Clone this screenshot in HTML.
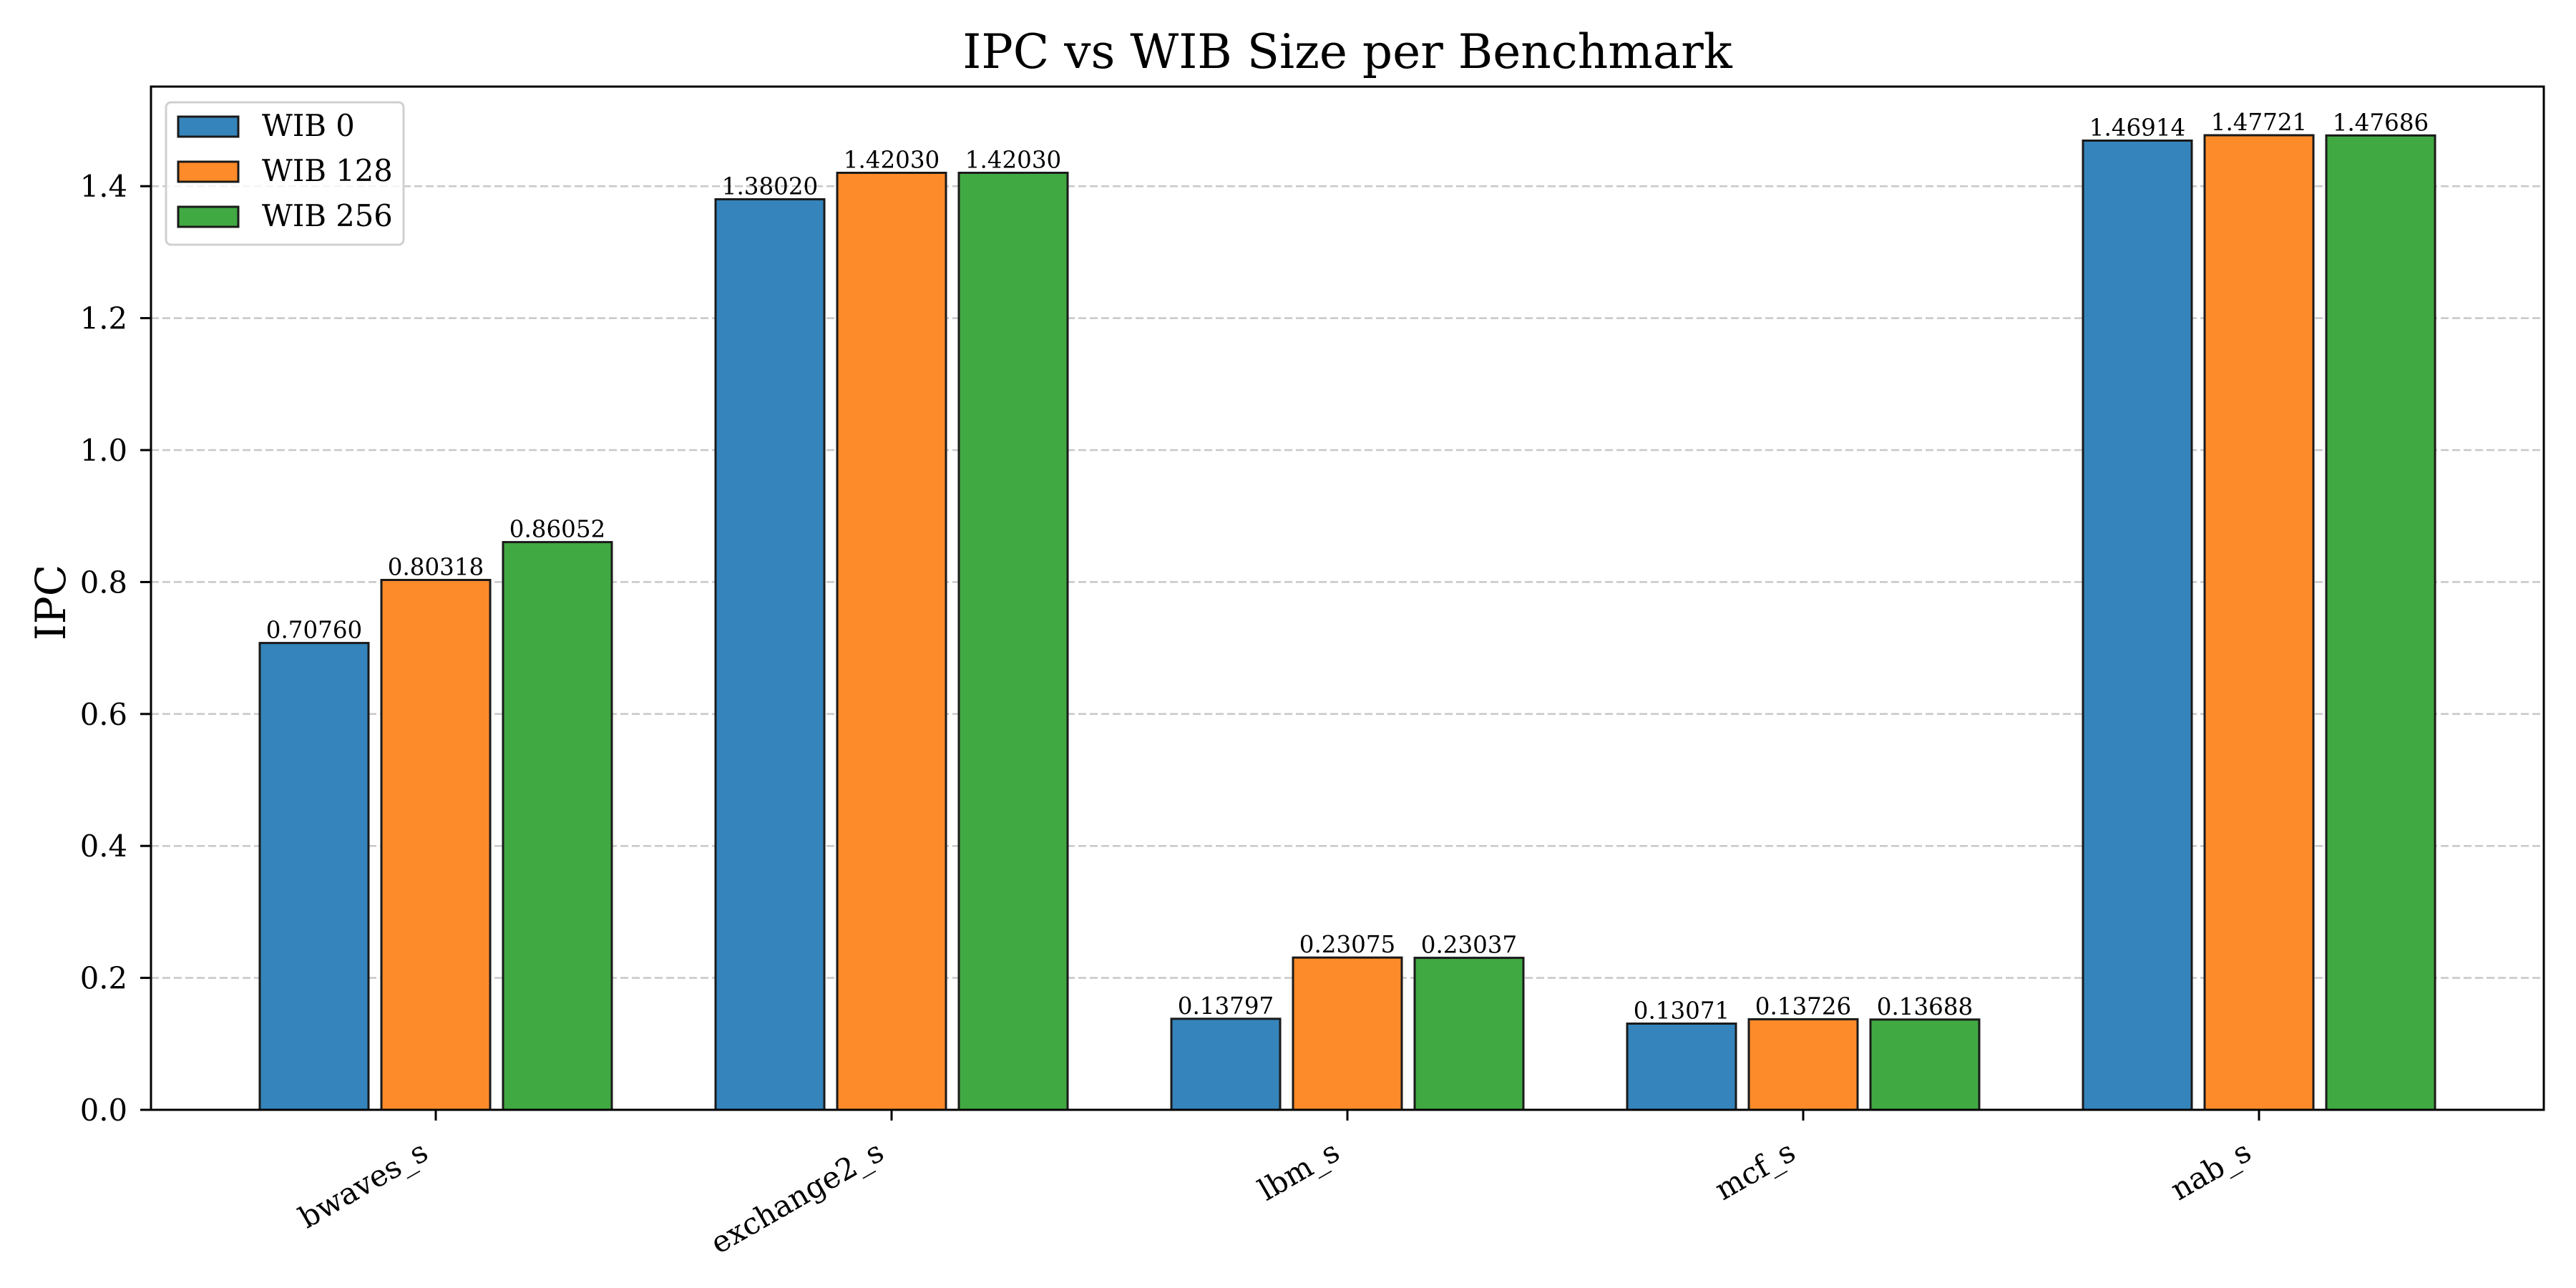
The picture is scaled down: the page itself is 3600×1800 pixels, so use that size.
<!DOCTYPE html>
<html><head><meta charset="utf-8"><style>
html,body{margin:0;padding:0;background:#fff;}
svg{display:block;}
text{font-family:"DejaVu Serif","Liberation Serif",serif;fill:#000;}
</style></head><body>
<svg width="3600" height="1800" viewBox="0 0 3600 1800" xmlns="http://www.w3.org/2000/svg">
<rect width="3600" height="1800" fill="#fff"/>
<g stroke="#c8c8c8" stroke-width="2.5" stroke-dasharray="11,5">
<line x1="211" x2="3555" y1="1366.6" y2="1366.6"/>
<line x1="211" x2="3555" y1="1182.2" y2="1182.2"/>
<line x1="211" x2="3555" y1="997.8" y2="997.8"/>
<line x1="211" x2="3555" y1="813.4" y2="813.4"/>
<line x1="211" x2="3555" y1="629" y2="629"/>
<line x1="211" x2="3555" y1="444.6" y2="444.6"/>
<line x1="211" x2="3555" y1="260.2" y2="260.2"/>
</g>
<g stroke="#1a1a1a" stroke-width="3">
<rect x="363" y="898.6" width="152" height="652.4" fill="#3584bb"/>
<rect x="533" y="810.5" width="152" height="740.5" fill="#fe8b29"/>
<rect x="703" y="757.6" width="152" height="793.4" fill="#41a942"/>
<rect x="1000" y="278.5" width="152" height="1272.5" fill="#3584bb"/>
<rect x="1170" y="241.5" width="152" height="1309.5" fill="#fe8b29"/>
<rect x="1340" y="241.5" width="152" height="1309.5" fill="#41a942"/>
<rect x="1637" y="1423.8" width="152" height="127.2" fill="#3584bb"/>
<rect x="1807" y="1338.2" width="152" height="212.8" fill="#fe8b29"/>
<rect x="1977" y="1338.6" width="152" height="212.4" fill="#41a942"/>
<rect x="2274" y="1430.5" width="152" height="120.5" fill="#3584bb"/>
<rect x="2444" y="1424.4" width="152" height="126.6" fill="#fe8b29"/>
<rect x="2614" y="1424.8" width="152" height="126.2" fill="#41a942"/>
<rect x="2911" y="196.5" width="152" height="1354.5" fill="#3584bb"/>
<rect x="3081" y="189" width="152" height="1362" fill="#fe8b29"/>
<rect x="3251" y="189.3" width="152" height="1361.7" fill="#41a942"/>
</g>
<g font-size="32.5" text-anchor="middle">
<text x="439" y="891.6">0.70760</text>
<text x="609" y="803.5">0.80318</text>
<text x="779" y="750.6">0.86052</text>
<text x="1076" y="271.5">1.38020</text>
<text x="1246" y="234.5">1.42030</text>
<text x="1416" y="234.5">1.42030</text>
<text x="1713" y="1416.8">0.13797</text>
<text x="1883" y="1331.2">0.23075</text>
<text x="2053" y="1331.6">0.23037</text>
<text x="2350" y="1423.5">0.13071</text>
<text x="2520" y="1417.4">0.13726</text>
<text x="2690" y="1417.8">0.13688</text>
<text x="2987" y="189.5">1.46914</text>
<text x="3157" y="182">1.47721</text>
<text x="3327" y="182.3">1.47686</text>
</g>
<rect x="211" y="121" width="3344" height="1430" fill="none" stroke="#000" stroke-width="3"/>
<g stroke="#000" stroke-width="3">
<line x1="196" x2="211" y1="1551" y2="1551"/>
<line x1="196" x2="211" y1="1366.6" y2="1366.6"/>
<line x1="196" x2="211" y1="1182.2" y2="1182.2"/>
<line x1="196" x2="211" y1="997.8" y2="997.8"/>
<line x1="196" x2="211" y1="813.4" y2="813.4"/>
<line x1="196" x2="211" y1="629" y2="629"/>
<line x1="196" x2="211" y1="444.6" y2="444.6"/>
<line x1="196" x2="211" y1="260.2" y2="260.2"/>
<line x1="609" x2="609" y1="1551" y2="1566"/>
<line x1="1246" x2="1246" y1="1551" y2="1566"/>
<line x1="1883" x2="1883" y1="1551" y2="1566"/>
<line x1="2520" x2="2520" y1="1551" y2="1566"/>
<line x1="3157" x2="3157" y1="1551" y2="1566"/>
</g>
<g font-size="41.7" text-anchor="end">
<text x="178" y="1566">0.0</text>
<text x="178" y="1381.6">0.2</text>
<text x="178" y="1197.2">0.4</text>
<text x="178" y="1012.8">0.6</text>
<text x="178" y="828.4">0.8</text>
<text x="178" y="644">1.0</text>
<text x="178" y="459.6">1.2</text>
<text x="178" y="275.2">1.4</text>
</g>
<g font-size="41.7" text-anchor="end">
<text transform="translate(601,1618) rotate(-30)">bwaves_s</text>
<text transform="translate(1238,1618) rotate(-30)">exchange2_s</text>
<text transform="translate(1875,1618) rotate(-30)">lbm_s</text>
<text transform="translate(2512,1618) rotate(-30)">mcf_s</text>
<text transform="translate(3149,1618) rotate(-30)">nab_s</text>
</g>
<text transform="translate(91,842) rotate(-90)" font-size="58" text-anchor="middle">IPC</text>
<text x="1883" y="95" font-size="66" text-anchor="middle">IPC vs WIB Size per Benchmark</text>
<rect x="232" y="143" width="332" height="199" rx="7" fill="#fff" fill-opacity="0.8" stroke="#d0d0d0" stroke-width="3"/>
<g stroke="#1a1a1a" stroke-width="3">
<rect x="249" y="163" width="84" height="28" fill="#3584bb"/>
<rect x="249" y="226" width="84" height="28" fill="#fe8b29"/>
<rect x="249" y="289" width="84" height="28" fill="#41a942"/>
</g>
<g font-size="41.7">
<text x="366" y="190">WIB 0</text>
<text x="366" y="253">WIB 128</text>
<text x="366" y="316">WIB 256</text>
</g>
</svg>
</body></html>
